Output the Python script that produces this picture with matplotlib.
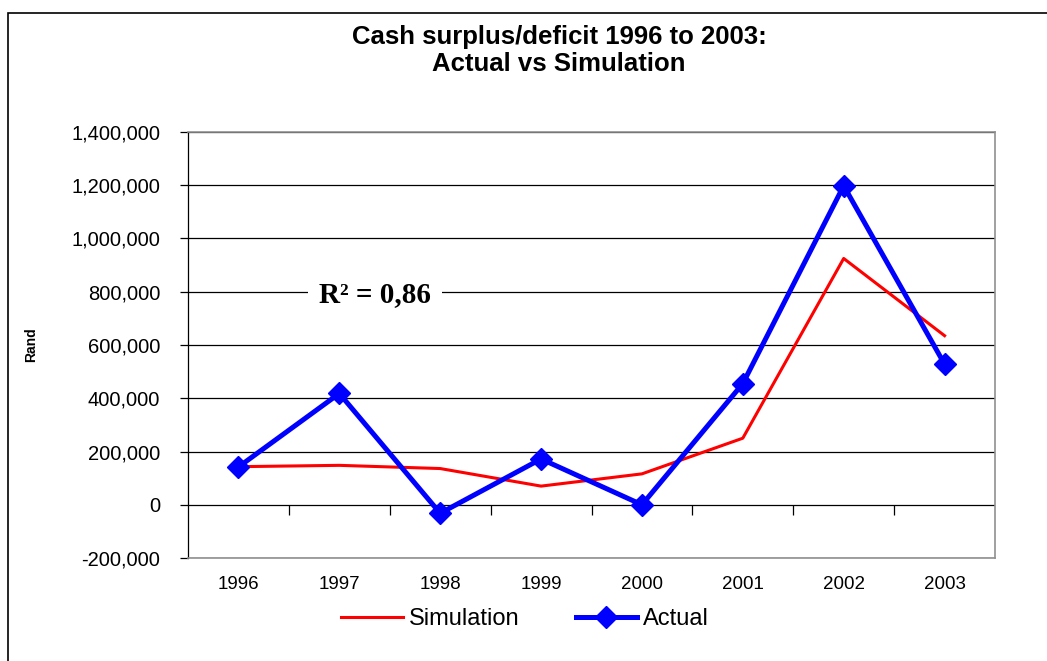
import matplotlib
matplotlib.use("Agg")
import matplotlib.pyplot as plt
from matplotlib.patches import Rectangle
from matplotlib.ticker import FuncFormatter

plt.rcParams['font.family'] = ['Liberation Sans', 'DejaVu Sans']

# data
years = ['1996', '1997', '1998', '1999', '2000', '2001', '2002', '2003']
simulation = [143000, 148000, 136000, 70000, 116000, 250000, 925000, 635000]
actual = [142000, 418000, -32000, 172000, 0, 455000, 1198000, 528000]
y_ticks = [-200000, 0, 200000, 400000, 600000, 800000, 1000000, 1200000, 1400000]

fig = plt.figure(figsize=(10.47, 6.61), dpi=100)
ax = fig.add_axes([188 / 1047, 1 - 558 / 661, (995 - 188) / 1047, (558 - 132) / 661])

x = list(range(len(years)))
ax.plot(x, simulation, color='#ff0000', lw=2.2, label='Simulation', zorder=3)
ax.plot(x, actual, color='#0000ff', lw=3.6, marker='D', markersize=11,
        label='Actual', zorder=4)

ax.set_xlim(-0.5, len(years) - 0.5)
ax.set_ylim(y_ticks[0], y_ticks[-1])
ax.set_yticks(y_ticks)
ax.yaxis.set_major_formatter(FuncFormatter(lambda v, p: f'{int(v):,}'))
ax.yaxis.grid(True, color='black', lw=0.9)
ax.set_axisbelow(True)
ax.tick_params(axis='y', direction='out', length=6, width=0.9, labelsize=14.5, pad=14)

ax.set_xticks(x)
ax.set_xticklabels(years)
ax.tick_params(axis='x', length=0, labelsize=13.5, pad=13)

for side in ['top', 'right', 'bottom']:
    ax.spines[side].set_color('#909090')
    ax.spines[side].set_linewidth(1.2)
ax.spines['left'].set_color('black')
ax.spines['left'].set_linewidth(0.9)

# category axis crossing at zero with tick marks between categories
zero_pos = (0 - y_ticks[0]) / (y_ticks[-1] - y_ticks[0])
sec = ax.secondary_xaxis(zero_pos)
sec.set_xticks([i + 0.5 for i in x[:-1]])
sec.set_xticklabels([])
sec.tick_params(direction='out', length=7, width=0.9, color='black')
sec.spines['bottom'].set_visible(False)

ax.set_ylabel('Rand', fontsize=10, fontweight='bold', labelpad=24)

ax.text(1.35, 790000, 'R² = 0,86', family='Liberation Serif', fontweight='bold',
        fontsize=21, ha='center', va='center', zorder=5,
        bbox=dict(facecolor='white', edgecolor='none', pad=8))

fig.text(0.534, 0.944, 'Cash surplus/deficit 1996 to 2003:', ha='center', va='center',
         fontsize=18.5, fontweight='bold')
fig.text(0.534, 0.903, 'Actual vs Simulation', ha='center', va='center',
         fontsize=18.5, fontweight='bold')

leg = fig.legend(loc='center', bbox_to_anchor=(525 / 1047, 1 - 619 / 661), ncol=2,
                 frameon=False, fontsize=17, handlelength=2.6, handletextpad=0.25,
                 columnspacing=2.4)

fig.add_artist(Rectangle((8 / 1047, -0.1), 2, 1 - 13 / 661 + 0.1, transform=fig.transFigure,
                         fill=False, edgecolor='black', lw=1.2))

fig.savefig('out.png', dpi=100)
